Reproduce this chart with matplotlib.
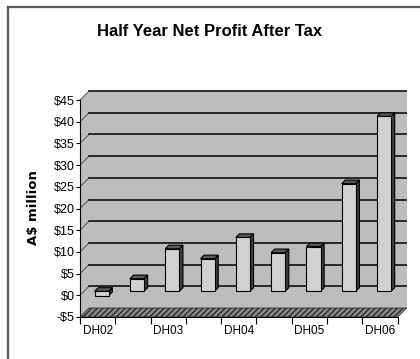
import numpy as np
import matplotlib.pyplot as plt
from matplotlib.patches import Polygon
from matplotlib.lines import Line2D

# half-year results, A$ million (labels only on the December halves)
periods = ["DH02", "", "DH03", "", "DH04", "", "DH05", "", "DH06"]
profit = [-1.0, 2.9, 9.8, 7.5, 12.4, 8.9, 10.3, 24.8, 40.3]
yticks = list(range(-5, 50, 5))
ylabels = ["-$5"] + ["$%d" % v for v in yticks[1:]]

# fake 3d depth (data units)
dx, dy = 0.255, 2.07
x0, x1 = -0.5, len(profit) - 0.5
ymin, ymax = yticks[0], yticks[-1]

wall_c = "#bdbdbd"
front_c = "#d2d2d2"
side_c = "#3c3c3c"
top_c = "#5a5a5a"

fig = plt.figure(figsize=(4.2, 3.59), dpi=100)
ax = fig.add_axes([80/420, 42/359, 327/420, 227/359])

def face(pts, fc, z, ec="black", lw=0.8, hatch=None):
    ax.add_patch(Polygon(pts, closed=True, fc=fc, ec=ec, lw=lw, hatch=hatch, zorder=z))

# walls and floor
face([(x0, ymin), (x0 + dx, ymin + dy), (x0 + dx, ymax + dy), (x0, ymax)], wall_c, 1, ec="none")
face([(x0 + dx, ymin + dy), (x1 + dx, ymin + dy), (x1 + dx, ymax + dy), (x0 + dx, ymax + dy)],
     wall_c, 1, ec="none")
face([(x0, ymin), (x1, ymin), (x1 + dx, ymin + dy), (x0 + dx, ymin + dy)], "#8a8a8a", 2,
     ec="#2a2a2a", lw=0.6, hatch="//////")

# gridlines on the walls
for v in yticks[1:]:
    ax.plot([x0, x0 + dx], [v, v + dy], color="#555555", lw=0.7, zorder=2)
    ax.plot([x0 + dx, x1 + dx], [v + dy, v + dy], color="black", lw=1.1, zorder=2)

# bars
f, d, w = 0.45, 0.4, 0.4
ox, oy = f * dx, f * dy
bx, by = d * dx, d * dy
for i, v in enumerate(profit):
    left, right = i - w / 2 + ox, i + w / 2 + ox
    lo, hi = min(0, v) + oy, max(0, v) + oy
    z = 3 + i * 0.1
    face([(right, lo), (right + bx, lo + by), (right + bx, hi + by), (right, hi)], side_c, z)
    face([(left, hi), (right, hi), (right + bx, hi + by), (left + bx, hi + by)], top_c, z)
    face([(left, lo), (right, lo), (right, hi), (left, hi)], front_c, z)

ax.set_xlim(x0, x1 + dx + 0.01)
ax.set_ylim(ymin, ymax + dy + 0.25)
for s in ["top", "right"]:
    ax.spines[s].set_visible(False)
ax.spines["left"].set_bounds(ymin, ymax)
ax.spines["bottom"].set_bounds(x0, x1)
ax.spines["left"].set_zorder(5)
ax.spines["bottom"].set_zorder(5)

ax.set_yticks(yticks)
ax.set_yticklabels(ylabels, fontsize=9, family="Liberation Sans")
ax.tick_params(axis="y", length=3, width=0.8, pad=1)
ax.set_xticks(np.arange(x0, x1 + 1))
ax.set_xticklabels([])
ax.tick_params(axis="x", which="major", length=5, width=0.8)
ax.set_xticks(np.arange(len(profit)), minor=True)
ax.set_xticklabels(periods, minor=True, fontsize=8.5, family="Liberation Sans")
ax.tick_params(axis="x", which="minor", length=0, pad=6)

fig.text(0.5, 1 - 32/359, "Half Year Net Profit After Tax", ha="center", va="center",
         fontsize=12, fontweight="bold", family="Liberation Sans")
fig.text(34/420, 1 - 208/359, "A$ million", ha="center", va="center", rotation=90,
         fontsize=9.5, fontweight="bold")

# outer frame (top and left edge only visible)
fig.add_artist(Line2D([8/420, 8/420], [0, 1 - 7/359], transform=fig.transFigure,
                      color="#5a5a5a", lw=1.6))
fig.add_artist(Line2D([8/420, 1], [1 - 7/359, 1 - 7/359], transform=fig.transFigure,
                      color="#5a5a5a", lw=1.6))

fig.savefig("out.png", dpi=100)
